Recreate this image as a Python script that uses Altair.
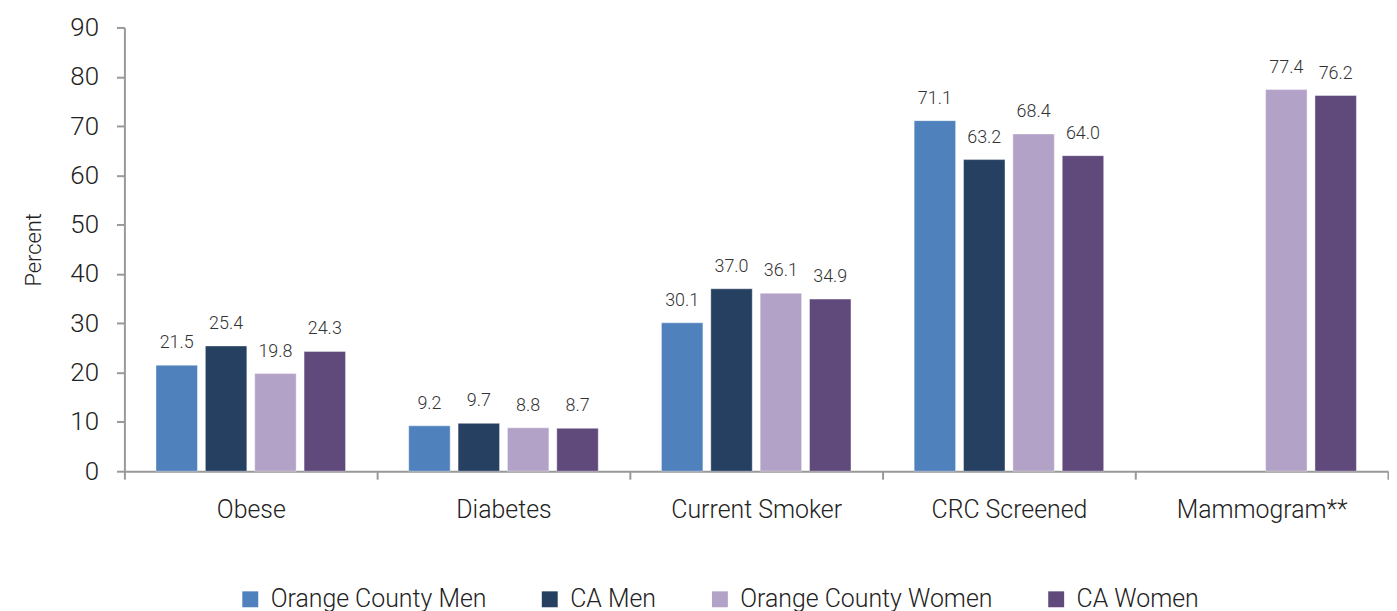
import altair as alt
import pandas as pd

categories = ["Obese", "Diabetes", "Current Smoker", "CRC Screened", "Mammogram**"]
groups = ["Orange County Men", "CA Men", "Orange County Women", "CA Women"]
oc_men = [21.5, 9.2, 30.1, 71.1, None]
ca_men = [25.4, 9.7, 37.0, 63.2, None]
oc_women = [19.8, 8.8, 36.1, 68.4, 77.4]
ca_women = [24.3, 8.7, 34.9, 64.0, 76.2]
colors = ["#4F81BD", "#254061", "#B3A2C7", "#604A7B"]
y_ticks = [0, 10, 20, 30, 40, 50, 60, 70, 80, 90]

rows = []
for g, vals in zip(groups, [oc_men, ca_men, oc_women, ca_women]):
    for c, v in zip(categories, vals):
        if v is not None:
            rows.append({"category": c, "group": g, "value": v, "label": f"{v:.1f}"})
df = pd.DataFrame(rows)

FONT = "Roboto"
W = 300

x = alt.X("category:N", sort=categories,
          scale=alt.Scale(domain=categories, paddingInner=0, paddingOuter=0),
          axis=alt.Axis(title=None, labelAngle=0, tickBand="extent", labelFontSize=25,
                        labelPadding=19, tickSize=8))
xo = alt.XOffset("group:N", sort=groups,
                 scale=alt.Scale(domain=groups, paddingInner=0.16, paddingOuter=0.64))
y = alt.Y("value:Q", scale=alt.Scale(domain=[0, 90], nice=False),
          axis=alt.Axis(title="Percent", values=y_ticks, grid=False, labelFontSize=26,
                        titleFontSize=22, titlePadding=24,
                        labelPadding=18, tickSize=8))

bars = alt.Chart(df).mark_bar(stroke="#ffffff", strokeWidth=0.8, strokeOpacity=0.5).encode(
    x=x, xOffset=xo, y=y,
    color=alt.Color("group:N", sort=groups,
                    scale=alt.Scale(domain=groups, range=colors),
                    legend=alt.Legend(title=None, orient="none", direction="horizontal",
                                      legendX=114, legendY=562, symbolType="square",
                                      symbolSize=256, symbolStrokeWidth=0,
                                      labelFontSize=25, labelOffset=8, columnPadding=51,
                                      labelColor="#222222", labelFont=FONT,
                                      labelFontWeight=W, labelLimit=400)),
)

text = alt.Chart(df).mark_text(baseline="alphabetic", dy=-17, fontSize=18,
                               color="#333333", font=FONT, fontWeight=W).encode(
    x=x, xOffset=xo, y=y, text="label:N"
)

chart = (bars + text).properties(
    width=1270, height=446, padding={"left": 15, "top": 5, "right": 0, "bottom": 5}
).configure_view(stroke=None).configure_axis(
    domainColor="#999999", tickColor="#999999", domainWidth=2, tickWidth=2,
    labelColor="#222222", titleColor="#222222", labelFont=FONT, titleFont=FONT,
    labelFontWeight=W, titleFontWeight=W
)

chart.save("out.html", embed_options={"renderer": "svg", "actions": False})
